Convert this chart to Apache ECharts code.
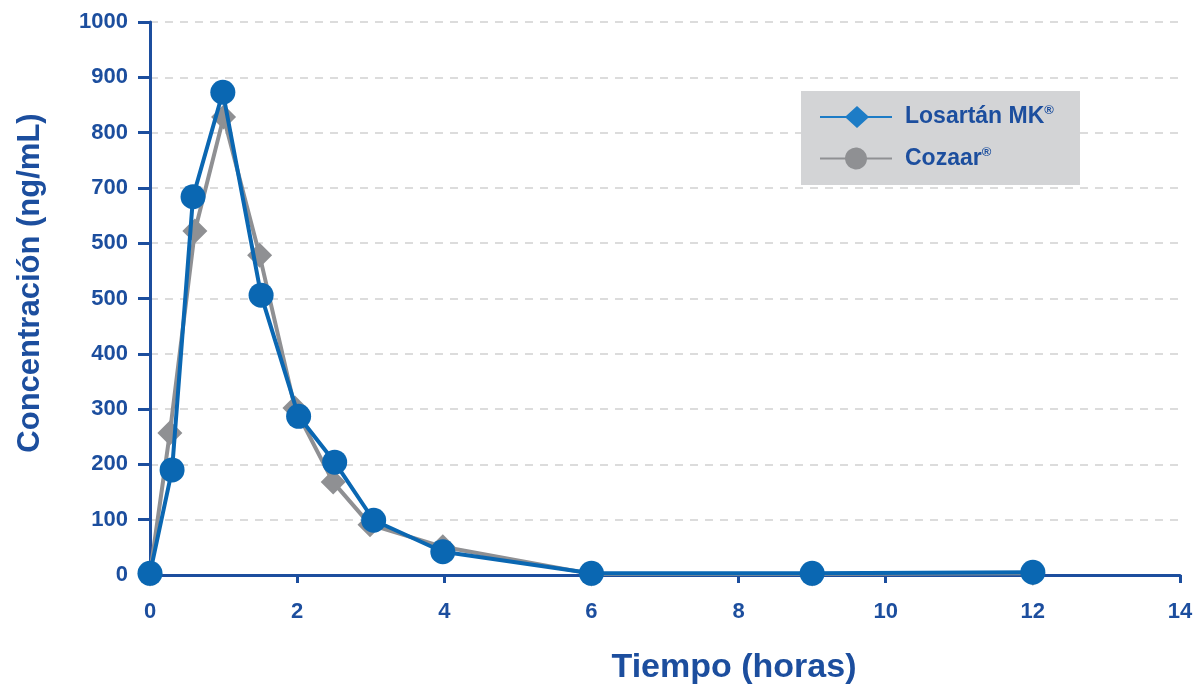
<!DOCTYPE html>
<html>
<head>
<meta charset="utf-8">
<script src="https://cdn.jsdelivr.net/npm/echarts@6/dist/echarts.min.js"></script>
<style>
html,body{margin:0;padding:0;background:#fff;}
#chart{width:1198px;height:691px;}
</style>
</head>
<body>
<div id="chart"></div>
<script>
// ---- data ----
const seriesNames = ['Losartán MK®', 'Cozaar®'];
const losartanTimes = [0, 0.30, 0.585, 0.99, 1.51, 2.02, 2.51, 3.04, 3.98, 6, 9, 12];
const losartanConc  = [3, 190, 684, 873, 506, 287, 204, 99, 42, 3, 3, 5];
const cozaarTimes   = [0, 0.27, 0.61, 1.0, 1.49, 1.97, 2.49, 2.99, 3.98, 6, 9, 12];
const cozaarConc    = [2, 257, 622, 828, 578, 302, 168, 91, 51, 2, 2, 3];
const yTickLabels   = ['0', '100', '200', '300', '400', '500', '500', '700', '800', '900', '1000'];
const xTickLabels   = ['0', '2', '4', '6', '8', '10', '12', '14'];
const xTitle = 'Tiempo (horas)';
const yTitle = 'Concentración (ng/mL)';

const NAVY = '#1c4e9e';
const BLUE = '#0a67b2';
const GRAY = '#8f9093';
const FONT = '"Liberation Sans", Arial, Helvetica, sans-serif';

const pairs = (xs, ys) => xs.map((x, i) => [x, ys[i]]);

const diamondIcon = 'path://M0,10 L26,10 L37,0 L48,10 L72,10 L72,12 L48,12 L37,22 L26,12 L0,12 Z M79.9,11 L80,11 L80,11.01 Z';
const circleIcon = 'path://M0,10 L25.05,10 A11,11 0 0,1 46.95,10 L72,10 L72,12 L46.95,12 A11,11 0 0,1 25.05,12 L0,12 Z M79.9,11 L80,11 L80,11.01 Z';

const chart = echarts.init(document.getElementById('chart'), null, {renderer: 'canvas'});
chart.setOption({
  animation: false,
  backgroundColor: '#ffffff',
  textStyle: {fontFamily: FONT},
  grid: {left: 150, right: 18, top: 22, bottom: 116, containLabel: false},
  graphic: [
    {
      type: 'rect', z: 50, left: 801, top: 91,
      shape: {width: 279, height: 94},
      style: {fill: '#d3d4d6'}
    },
    {
      type: 'text', z: 50, x: 30, y: 283, rotation: Math.PI / 2,
      style: {
        text: yTitle, fontFamily: FONT, fontSize: 31, fontWeight: 'bold',
        fill: NAVY, align: 'center', verticalAlign: 'middle'
      }
    },
    {
      type: 'text', z: 50, x: 734, y: 668,
      style: {
        text: xTitle, fontFamily: FONT, fontSize: 34, fontWeight: 'bold',
        fill: NAVY, align: 'center', verticalAlign: 'middle'
      }
    }
  ],
  legend: {
    z: 60,
    orient: 'vertical',
    left: 820, top: 104, padding: 0,
    itemWidth: 80, itemHeight: 22, itemGap: 17,
    data: [
      {name: seriesNames[0], icon: diamondIcon, itemStyle: {color: '#1d7cc6'}},
      {name: seriesNames[1], icon: circleIcon, itemStyle: {color: GRAY}}
    ],
    formatter: function (n) {
      return '{a|' + n.replace('®', '') + '}{s|®}';
    },
    textStyle: {
      rich: {
        a: {fontFamily: FONT, fontSize: 23, fontWeight: 'bold', color: NAVY, lineHeight: 26},
        s: {fontFamily: FONT, fontSize: 13, fontWeight: 'bold', color: NAVY, verticalAlign: 'top', lineHeight: 14}
      }
    }
  },
  xAxis: {
    type: 'value', min: 0, max: 14, interval: 2,
    axisLine: {show: true, onZero: false, lineStyle: {color: NAVY, width: 3}},
    axisTick: {show: true, inside: false, length: 8, lineStyle: {color: NAVY, width: 3}},
    axisLabel: {
      margin: 26, fontFamily: FONT, fontSize: 22, fontWeight: 'bold', color: NAVY,
      formatter: v => xTickLabels[Math.round(v / 2)]
    },
    splitLine: {show: false}
  },
  yAxis: {
    type: 'value', min: 0, max: 1000, interval: 100,
    axisLine: {show: true, lineStyle: {color: NAVY, width: 3}},
    axisTick: {show: true, inside: false, length: 12, lineStyle: {color: NAVY, width: 3}},
    axisLabel: {
      margin: 22, fontFamily: FONT, fontSize: 22, fontWeight: 'bold', color: NAVY,
      formatter: v => yTickLabels[Math.round(v / 100)]
    },
    splitLine: {show: true, lineStyle: {color: '#dcdcdc', width: 2, type: [8, 7]}}
  },
  series: [
    {
      name: seriesNames[1], type: 'line', data: pairs(cozaarTimes, cozaarConc),
      symbol: 'diamond', symbolSize: 25, showAllSymbol: true,
      lineStyle: {color: GRAY, width: 4},
      itemStyle: {color: GRAY}, z: 3
    },
    {
      name: seriesNames[0], type: 'line', data: pairs(losartanTimes, losartanConc),
      symbol: 'circle', symbolSize: 25, showAllSymbol: true,
      lineStyle: {color: BLUE, width: 4},
      itemStyle: {color: BLUE}, z: 4
    }
  ]
});
</script>
</body>
</html>
